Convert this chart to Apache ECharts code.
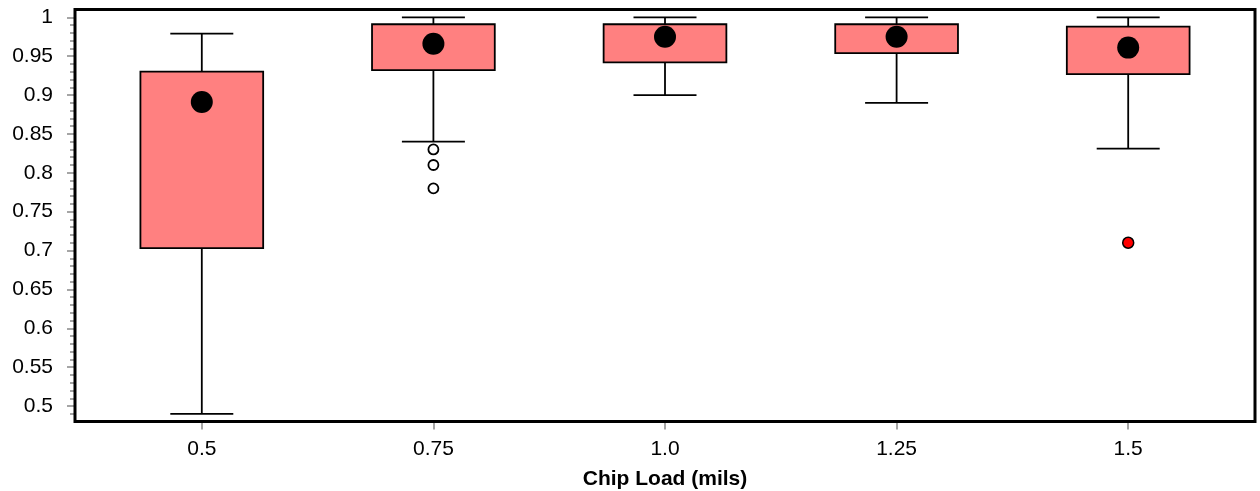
<!DOCTYPE html>
<html>
<head>
<meta charset="utf-8">
<script src="https://cdn.jsdelivr.net/npm/echarts@6/dist/echarts.min.js"></script>
<style>
html,body{margin:0;padding:0;background:#fff;}
#c{width:1260px;height:491px;}
</style>
</head>
<body>
<div id="c"></div>
<script>
// ---- data ----
var categories = ['0.5', '0.75', '1.0', '1.25', '1.5'];
// whisker low, Q1, Q3, whisker high
var whiskerLow = [0.49, 0.84, 0.90, 0.89, 0.831];
var q1 = [0.703, 0.932, 0.942, 0.954, 0.927];
var q3 = [0.930, 0.991, 0.991, 0.991, 0.988];
var whiskerHigh = [0.979, 1.0, 1.0, 1.0, 1.0];
var centerDot = [0.891, 0.966, 0.975, 0.975, 0.961];
// outliers: [category index, value]
var outliers = [[1, 0.83], [1, 0.81], [1, 0.78]];
var farOutliers = [[4, 0.71]];
var yMajorLabels = ['0.5', '0.55', '0.6', '0.65', '0.7', '0.75', '0.8', '0.85', '0.9', '0.95', '1'];
var yMin = 0.48, yMax = 1.01;

var majorVals = yMajorLabels.map(Number);
var minorVals = [];
for (var k = 49; k <= 100; k++) {
  if (k % 5 !== 0) minorVals.push(k / 100);
}

var boxData = categories.map(function (c, i) {
  return [i, whiskerLow[i], q1[i], q3[i], whiskerHigh[i]];
});
var dotData = categories.map(function (c, i) { return [i, centerDot[i]]; });

var chart = echarts.init(document.getElementById('c'), null, {renderer: 'canvas'});
var TOP = 9.5, BOTTOM = 69.4;
var font = '"Liberation Sans", Arial, Helvetica, sans-serif';

chart.setOption({
  animation: false,
  backgroundColor: '#fff',
  grid: [
    {left: 75, right: 5, top: TOP, bottom: BOTTOM, show: true, borderColor: '#000', borderWidth: 3,
      backgroundColor: 'transparent', z: 10, containLabel: false, outerBoundsMode: 'none'},
    {left: 86, right: 16, top: TOP, bottom: BOTTOM, containLabel: false, outerBoundsMode: 'none'}
  ],
  xAxis: [
    {gridIndex: 0, type: 'value', min: 0, max: 1, show: false},
    {
      gridIndex: 1, type: 'category', data: categories, boundaryGap: true,
      axisLine: {show: false},
      axisTick: {show: true, alignWithLabel: true, length: 8, lineStyle: {color: '#888', width: 1.5}},
      axisLabel: {fontSize: 21, color: '#000', margin: 17, fontFamily: font},
      splitLine: {show: false},
      name: 'Chip Load (mils)', nameLocation: 'middle', nameGap: 47,
      nameTextStyle: {fontSize: 21, fontWeight: 'bold', color: '#000', fontFamily: font}
    }
  ],
  yAxis: [
    {
      gridIndex: 0, type: 'value', min: yMin, max: yMax, position: 'left',
      axisLine: {show: false},
      axisTick: {show: true, length: 8, customValues: majorVals, lineStyle: {color: '#888', width: 1.5}},
      axisLabel: {show: true, customValues: majorVals, fontSize: 21, color: '#000', margin: 22, fontFamily: font,
        formatter: function (v) {
          var idx = majorVals.findIndex(function (m) { return Math.abs(m - v) < 1e-6; });
          return idx >= 0 ? yMajorLabels[idx] : '';
        }},
      splitLine: {show: false}
    },
    {
      gridIndex: 0, type: 'value', min: yMin, max: yMax, position: 'left',
      axisLine: {show: false},
      axisTick: {show: true, length: 5, customValues: minorVals, lineStyle: {color: '#888', width: 1.5}},
      axisLabel: {show: false},
      splitLine: {show: false}
    },
    {gridIndex: 1, type: 'value', min: yMin, max: yMax, show: false, splitLine: {show: false}}
  ],
  series: [
    {
      type: 'custom', xAxisIndex: 1, yAxisIndex: 2, data: boxData, z: 2,
      renderItem: function (params, api) {
        var x = api.value(0);
        var band = api.size([1, 0])[0];
        var bw = band * 0.53, cw = band * 0.272;
        var pLow = api.coord([x, api.value(1)]);
        var pQ1 = api.coord([x, api.value(2)]);
        var pQ3 = api.coord([x, api.value(3)]);
        var pHigh = api.coord([x, api.value(4)]);
        var cx = pLow[0];
        var ls = {stroke: '#000', lineWidth: 1.8};
        return {
          type: 'group',
          children: [
            {type: 'line', shape: {x1: cx, y1: pQ1[1], x2: cx, y2: pLow[1]}, style: ls},
            {type: 'line', shape: {x1: cx, y1: pQ3[1], x2: cx, y2: pHigh[1]}, style: ls},
            {type: 'line', shape: {x1: cx - cw / 2, y1: pLow[1], x2: cx + cw / 2, y2: pLow[1]}, style: ls},
            {type: 'line', shape: {x1: cx - cw / 2, y1: pHigh[1], x2: cx + cw / 2, y2: pHigh[1]}, style: ls},
            {type: 'rect', shape: {x: cx - bw / 2, y: pQ3[1], width: bw, height: pQ1[1] - pQ3[1]},
              style: {fill: '#FF8080', stroke: '#000', lineWidth: 1.8}}
          ]
        };
      }
    },
    {
      type: 'scatter', xAxisIndex: 1, yAxisIndex: 2, data: dotData, symbolSize: 22, z: 3,
      itemStyle: {color: '#000', opacity: 1}
    },
    {
      type: 'scatter', xAxisIndex: 1, yAxisIndex: 2, data: outliers, symbolSize: 10, z: 3,
      itemStyle: {color: '#fff', borderColor: '#000', borderWidth: 1.8, opacity: 1}
    },
    {
      type: 'scatter', xAxisIndex: 1, yAxisIndex: 2, data: farOutliers, symbolSize: 11, z: 3,
      itemStyle: {color: '#ff0000', borderColor: '#000', borderWidth: 1.5, opacity: 1}
    }
  ]
});
</script>
</body>
</html>
